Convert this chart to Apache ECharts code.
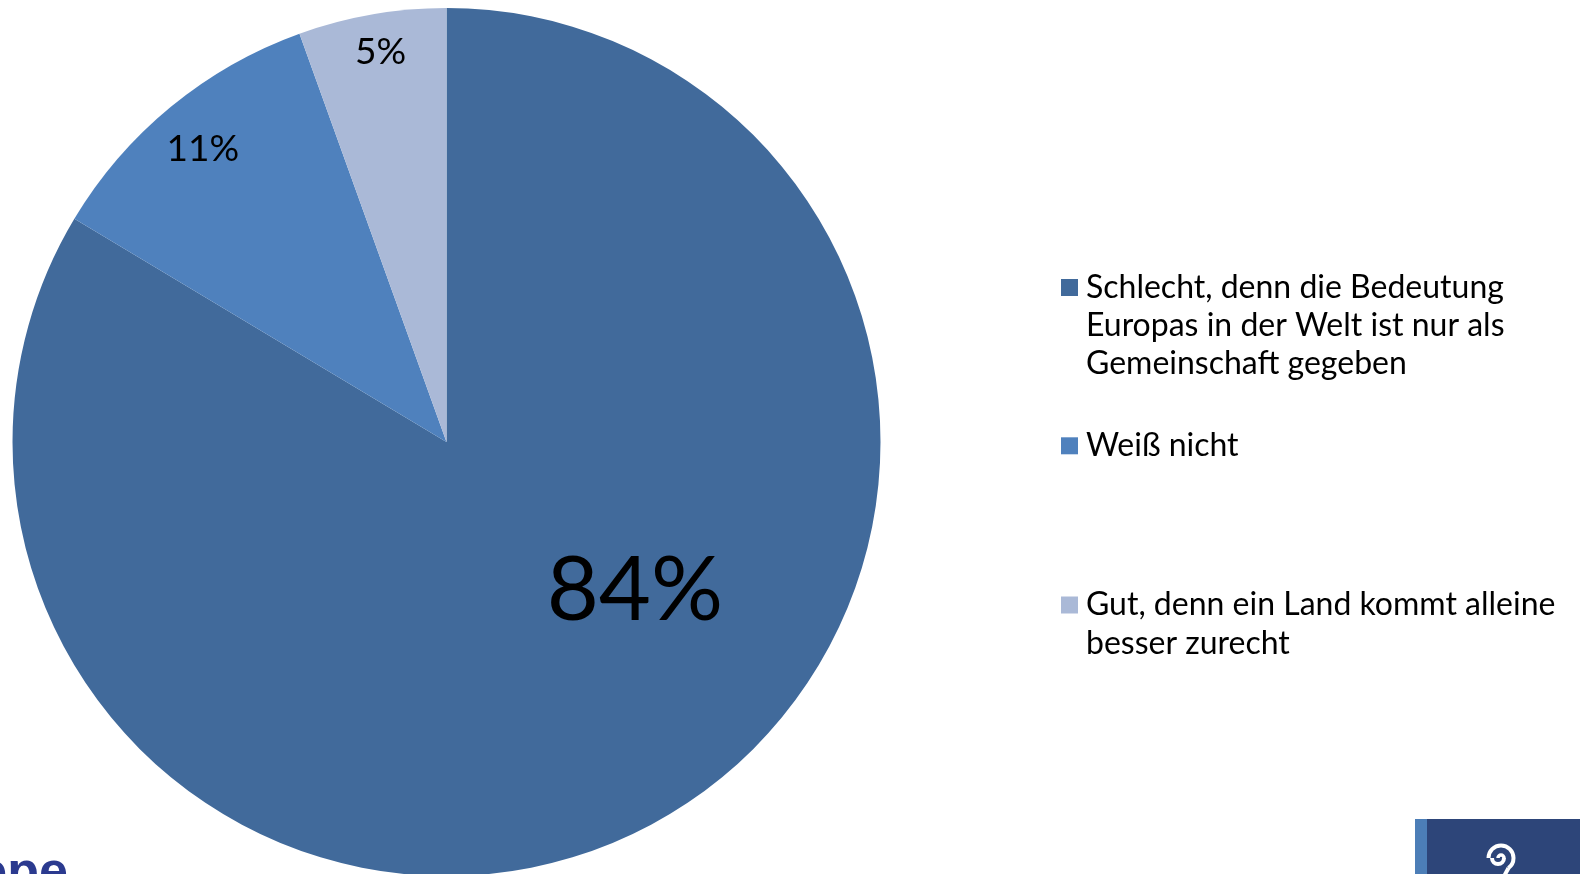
<!DOCTYPE html>
<html>
<head>
<meta charset="utf-8">
<script src="https://cdn.jsdelivr.net/npm/echarts@6/dist/echarts.min.js"></script>
<style>
html,body{margin:0;padding:0;background:#fff;}
#chart{width:1580px;height:874px;}
</style>
</head>
<body>
<div id="chart"></div>
<script>
// ---- data ----
const categories = [
  'Schlecht, denn die Bedeutung Europas in der Welt ist nur als Gemeinschaft gegeben',
  'Weiß nicht',
  'Gut, denn ein Land kommt alleine besser zurecht'
];
const legendLines = [
  ['Schlecht, denn die Bedeutung', 'Europas in der Welt ist nur als', 'Gemeinschaft gegeben'],
  ['Weiß nicht'],
  ['Gut, denn ein Land kommt alleine', 'besser zurecht']
];
const values = [83.6, 10.9, 5.5];
const valueLabels = ['84%', '11%', '5%'];

// ---- styles ----
const colors = ['#416A9B', '#4F81BD', '#AAB9D7'];
const FONT = 'Lato, "Noto Sans", sans-serif';
const LH = 38.3;
const labelStyles = [
  { fontSize: 90, offset: [80, -42] },
  { fontSize: 37, offset: [-104, -123] },
  { fontSize: 37, offset: [-28, -173] }
];
const legendIconCenters = [287.5, 445.8, 605];

const chart = echarts.init(document.getElementById('chart'), null, { renderer: 'canvas' });

const legends = categories.map((name, i) => {
  const n = legendLines[i].length;
  const boxH = (2 * n - 1) * LH;
  // blank lines before the text so that the marker sits beside the first line
  const text = new Array(n).join('\n') + legendLines[i].join('\n');
  return {
    data: [name],
    orient: 'vertical',
    left: 1061,
    top: legendIconCenters[i] - boxH / 2,
    padding: 0,
    icon: 'rect',
    itemWidth: 17,
    itemHeight: 17,
    selectedMode: false,
    formatter: () => text,
    textStyle: {
      color: '#000',
      fontSize: 32,
      fontFamily: FONT,
      lineHeight: LH,
      padding: [0, 0, 0, 3]
    }
  };
});

const option = {
  animation: false,
  backgroundColor: '#fff',
  color: colors,
  legend: legends,
  series: [{
    type: 'pie',
    center: [446.5, 442],
    radius: [0, 434],
    startAngle: 90,
    clockwise: true,
    avoidLabelOverlap: false,
    labelLine: { show: false },
    emphasis: { disabled: true },
    itemStyle: { borderWidth: 0 },
    label: {
      show: true,
      position: 'inside',
      color: '#000',
      fontFamily: FONT
    },
    data: categories.map((name, i) => ({
      name: name,
      value: values[i],
      label: {
        formatter: valueLabels[i],
        fontSize: labelStyles[i].fontSize,
        offset: labelStyles[i].offset
      }
    }))
  }],
  graphic: [
    // partially visible logo text bottom-left
    {
      type: 'text', x: 68, y: 900,
      style: { text: 'Europe', align: 'right', verticalAlign: 'bottom',
               fill: '#2B3A8F', font: 'bold 52px "Liberation Sans", Arial, sans-serif' }
    },
    // logo box bottom-right
    { type: 'rect', shape: { x: 1415, y: 819, width: 12, height: 60 }, style: { fill: '#4C7EB7' } },
    { type: 'rect', shape: { x: 1427, y: 819, width: 160, height: 60 }, style: { fill: '#2D4579' } },
    { type: 'arc', shape: { cx: 1501, cy: 858, r: 3, startAngle: Math.PI, endAngle: 2 * Math.PI },
      style: { stroke: '#fff', fill: null, lineWidth: 3.5 } },
    { type: 'arc', shape: { cx: 1498, cy: 858, r: 6, startAngle: 0, endAngle: Math.PI },
      style: { stroke: '#fff', fill: null, lineWidth: 4 } },
    { type: 'arc', shape: { cx: 1501, cy: 858, r: 12.5, startAngle: Math.PI, endAngle: 2 * Math.PI },
      style: { stroke: '#fff', fill: null, lineWidth: 4 } },
    { type: 'arc', shape: { cx: 1501, cy: 858, r: 12.5, startAngle: 0, endAngle: Math.PI * 0.3 },
      style: { stroke: '#fff', fill: null, lineWidth: 4 } },
    { type: 'line', shape: { x1: 1508.5, y1: 868, x2: 1502, y2: 880 },
      style: { stroke: '#fff', lineWidth: 4 } }
  ]
};
chart.setOption(option);
</script>
</body>
</html>
